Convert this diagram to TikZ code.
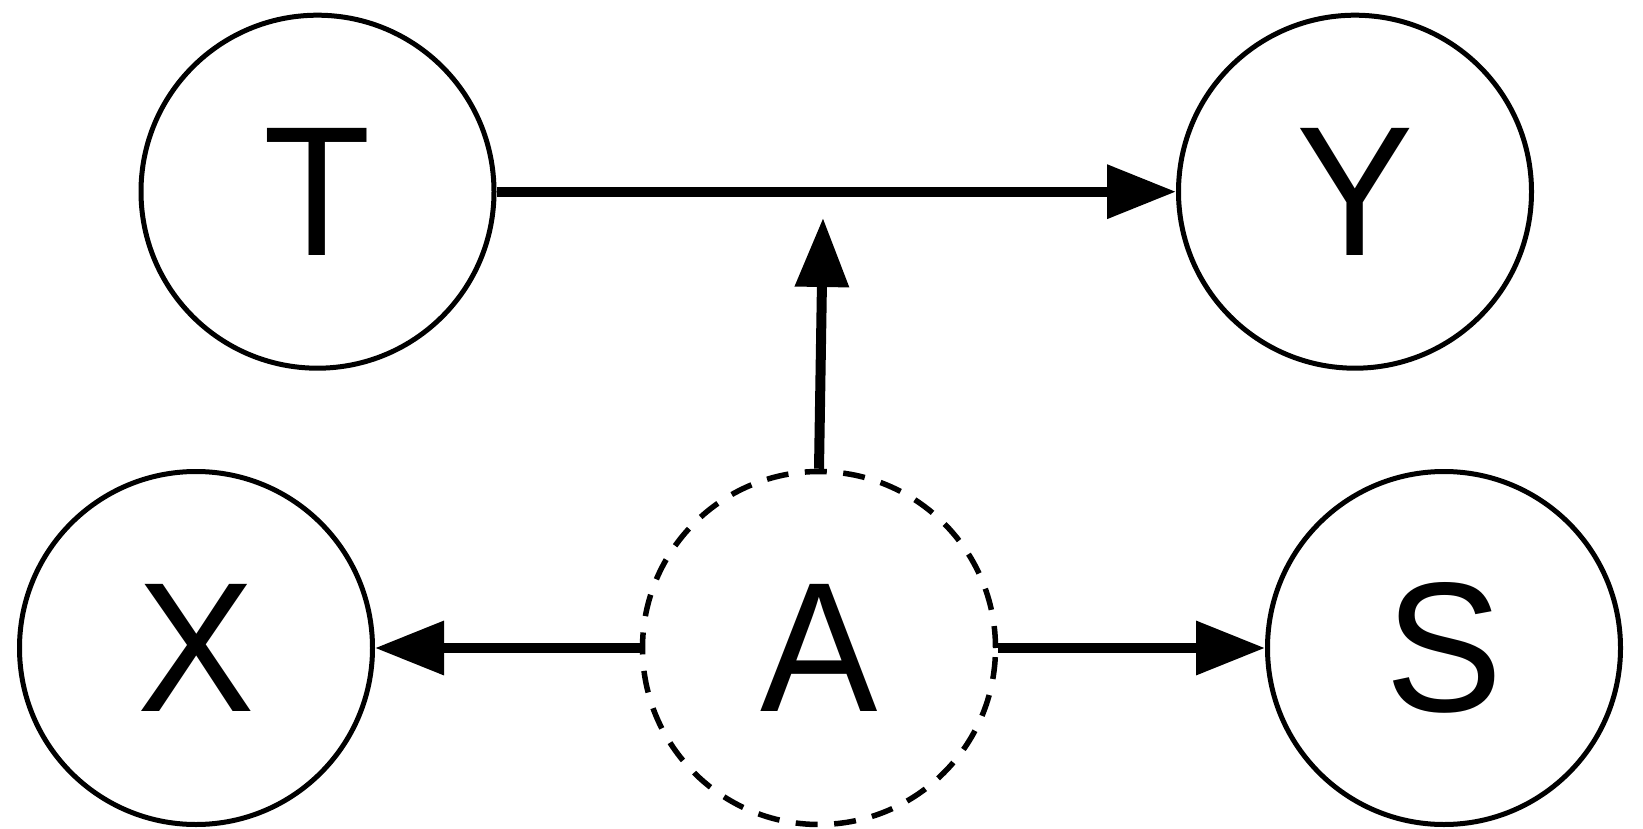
\documentclass[tikz,border=0pt]{standalone}
\usepackage{fontspec}
\setmainfont{Liberation Sans}
\usetikzlibrary{arrows.meta}
\newcommand{\glab}[1]{\scalebox{1}[1.05]{#1}}
\begin{document}
\begin{tikzpicture}[x=1pt,y=-1pt,
  var/.style={circle,draw=black,line width=5pt,minimum size=353pt,inner sep=0pt,
    font=\fontsize{176}{176}\selectfont},
  latent/.style={var,line width=5.5pt,dash pattern=on 22pt off 16.5pt},
  edge/.style={line width=10pt,-{Triangle[length=69pt,width=52pt]}}]
\useasboundingbox (0,0) rectangle (1643,829);
\node[var] (T) at (317.5,191.7) {\glab{T}};
\node[var] (Y) at (1355,191.7) {\glab{Y}};
\node[var] (X) at (196,648) {\glab{X}};
\node[latent] (A) at (819,648) {\glab{A}};
\node[var] (S) at (1444,648) {\glab{S}};
\coordinate (m) at (823,218);
\draw[edge] (T) -- (Y);
\draw[edge] (A) -- (X);
\draw[edge] (A) -- (S);
\draw[edge] (A.north) -- (m);
\end{tikzpicture}
\end{document}
